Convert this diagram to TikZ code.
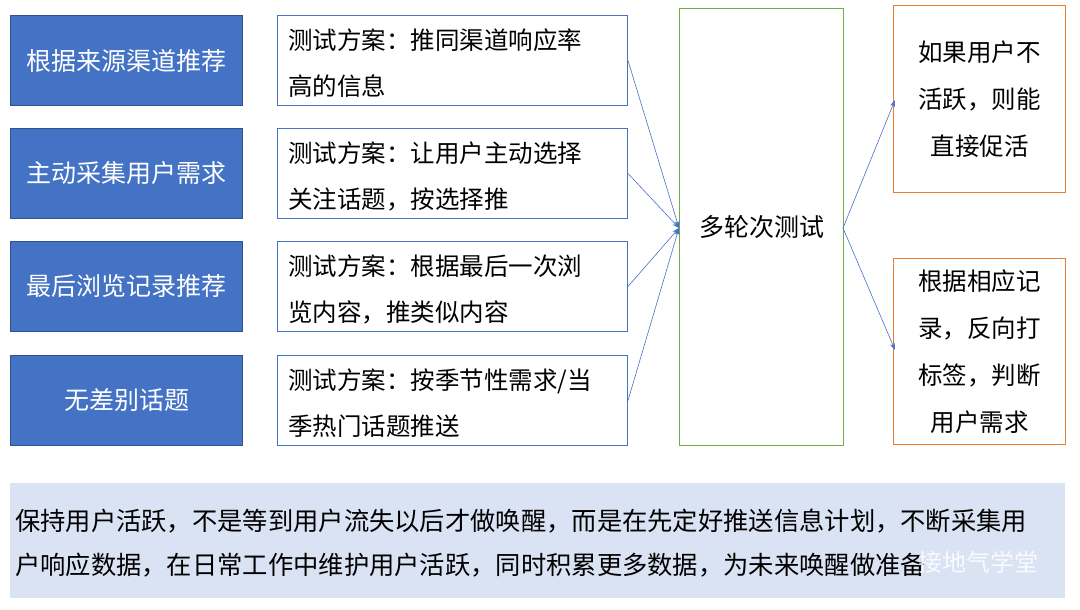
\documentclass[tikz,border=0pt]{standalone}
\usepackage{fontspec}
\setmainfont{Noto Sans CJK SC}
\usetikzlibrary{arrows.meta}
\definecolor{bl}{HTML}{4472C4}
\definecolor{bld}{HTML}{2F528F}
\definecolor{gr}{HTML}{70AD47}
\definecolor{orr}{HTML}{ED7D31}
\definecolor{lb}{HTML}{DAE3F3}
\begin{document}
\begin{tikzpicture}[x=1pt,y=-1pt,
 bbox/.style={draw=bld,line width=1pt,fill=bl,text=white,font=\fontsize{25}{30}\selectfont,minimum width=232pt,minimum height=90pt,anchor=north west,inner sep=0},
 tbox/.style={draw=bl,line width=1pt,minimum width=350pt,minimum height=90pt,anchor=north west,inner sep=0},
 ttxt/.style={font=\fontsize{24.5}{46}\selectfont,anchor=north west,align=left,inner sep=0},
 obox/.style={draw=orr,line width=1.2pt,font=\fontsize{24.5}{47}\selectfont,minimum width=172pt,anchor=north west,align=center},
 arr/.style={draw=bl,line width=0.6pt,-{Stealth[length=7pt,width=5pt]}}]
\useasboundingbox (0,0) rectangle (1080,610);
\node[bbox] (b1) at (10,15) {根据来源渠道推荐};
\node[bbox] (b2) at (10,128) {主动采集用户需求};
\node[bbox] (b3) at (10,241) {最后浏览记录推荐};
\node[bbox] (b4) at (10,355) {无差别话题};
\node[tbox] (t1) at (277,15) {};
\node[tbox] (t2) at (277,128) {};
\node[tbox] (t3) at (277,241) {};
\node[tbox] (t4) at (277,355) {};
\node[ttxt] (x1) at (288,29) {测试方案：推同渠道响应率\\高的信息};
\node[ttxt] (x2) at (288,142) {测试方案：让用户主动选择\\关注话题，按选择推};
\node[ttxt] (x3) at (288,255) {测试方案：根据最后一次浏\\览内容，推类似内容};
\node[ttxt] (x4) at (288,369) {测试方案：按季节性需求/当\\季热门话题推送};
\node[draw=gr,line width=1.2pt,minimum width=164pt,minimum height=437pt,anchor=north west,font=\fontsize{25}{30}\selectfont] (g) at (679,8) {多轮次测试};
\node[obox,minimum height=187pt] (o1) at (893,5) {如果用户不\\活跃，则能\\直接促活};
\node[obox,minimum height=186pt] (o2) at (893,258) {根据相应记\\录，反向打\\标签，判断\\用户需求};
\coordinate (gin) at (679,228);
\coordinate (gout) at (843,228);
\draw[arr] (t1.east) -- (gin);
\draw[arr] (t2.east) -- (gin);
\draw[arr] (t3.east) -- (gin);
\draw[arr] (t4.east) -- (gin);
\draw[arr] (gout) -- (895,100);
\draw[arr] (gout) -- (895,350);
\node[fill=lb,minimum width=1055pt,minimum height=115pt,anchor=north west,inner sep=0] (bt) at (10,483) {};
\node[anchor=west,font=\fontsize{25.3}{44}\selectfont,align=left,inner sep=0] (btt) at (15,543) {保持用户活跃，不是等到用户流失以后才做唤醒，而是在先定好推送信息计划，不断采集用\\户响应数据，在日常工作中维护用户活跃，同时积累更多数据，为未来唤醒做准备};
\node[text=white,opacity=0.85,font=\fontsize{24}{30}\selectfont,anchor=west,inner sep=0] (wm) at (918,562) {接地气学堂};
\end{tikzpicture}
\end{document}
